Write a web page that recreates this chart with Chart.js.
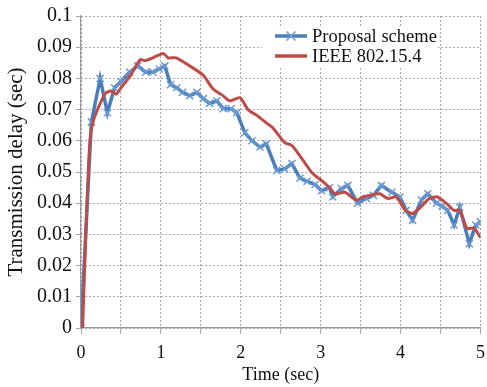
<!DOCTYPE html>
<html>
<head>
<meta charset="utf-8">
<script src="https://cdn.jsdelivr.net/npm/chart.js@4/dist/chart.umd.min.js"></script>
<style>
  html, body { margin: 0; padding: 0; background: #fff; }
  #wrap { width: 487px; height: 387px; position: relative; }
</style>
</head>
<body>
<div id="wrap"><canvas id="c" width="487" height="387"></canvas></div>
<script>
// ---- data ----
const seriesNames = ["Proposal scheme", "IEEE 802.15.4"];
const xTickLabels = ["0", "1", "2", "3", "4", "5"];
const yTickLabels = ["0", "0.01", "0.02", "0.03", "0.04", "0.05", "0.06", "0.07", "0.08", "0.09", "0.1"];
const xTitle = "Time (sec)";
const yTitle = "Transmission delay (sec)";

const proposalTime = [0, 0.13, 0.24, 0.33, 0.42, 0.5, 0.61, 0.71, 0.81, 0.9, 0.98, 1.05, 1.12, 1.2, 1.27, 1.36, 1.45, 1.53, 1.61, 1.7, 1.78, 1.88, 1.95, 2.05, 2.14, 2.24, 2.32, 2.45, 2.55, 2.64, 2.74, 2.83, 2.93, 3.01, 3.11, 3.15, 3.26, 3.34, 3.46, 3.57, 3.66, 3.76, 3.89, 3.99, 4.07, 4.15, 4.26, 4.34, 4.45, 4.52, 4.59, 4.67, 4.74, 4.86, 4.94, 5.0];
const proposalDelay = [0, 0.066, 0.080, 0.069, 0.077, 0.079, 0.082, 0.084, 0.082, 0.082, 0.083, 0.084, 0.078, 0.077, 0.0755, 0.0745, 0.0755, 0.0735, 0.072, 0.0728, 0.0703, 0.0703, 0.069, 0.0626, 0.060, 0.058, 0.059, 0.0505, 0.051, 0.0527, 0.048, 0.047, 0.046, 0.044, 0.045, 0.042, 0.0447, 0.0457, 0.040, 0.0415, 0.0425, 0.0457, 0.0435, 0.042, 0.0377, 0.0345, 0.041, 0.043, 0.040, 0.039, 0.0377, 0.033, 0.0387, 0.027, 0.033, 0.034];

const ieeeTime = [0.02, 0.06, 0.1, 0.12, 0.15, 0.19, 0.3, 0.375, 0.44, 0.5, 0.62, 0.74, 0.8, 0.9, 1.03, 1.09, 1.19, 1.36, 1.53, 1.65, 1.78, 1.86, 1.99, 2.09, 2.21, 2.33, 2.4, 2.55, 2.64, 2.78, 2.9, 3.01, 3.11, 3.18, 3.3, 3.45, 3.53, 3.61, 3.74, 3.84, 3.95, 4.05, 4.15, 4.26, 4.36, 4.46, 4.57, 4.67, 4.74, 4.83, 4.92, 5.0];
const ieeeDelay = [0, 0.03, 0.055, 0.062, 0.066, 0.069, 0.075, 0.076, 0.075, 0.077, 0.081, 0.086, 0.0857, 0.0866, 0.088, 0.0866, 0.0866, 0.084, 0.081, 0.0767, 0.0744, 0.0728, 0.0738, 0.070, 0.068, 0.0655, 0.0642, 0.0594, 0.0585, 0.0537, 0.0495, 0.0473, 0.045, 0.043, 0.0435, 0.041, 0.042, 0.0425, 0.043, 0.0415, 0.042, 0.038, 0.0367, 0.039, 0.0415, 0.042, 0.040, 0.0377, 0.0377, 0.032, 0.032, 0.029];

const toPoints = (xs, ys) => xs.map((x, i) => ({ x: x, y: ys[i] }));

const FONT = '"Liberation Serif", "Times New Roman", serif';
const BLUE = '#4a7ebb';
const BLUE_MARK = '#6b9bd6';
const RED = '#be4b48';

// Legend drawn inside the plot area
const insideLegend = {
  id: 'insideLegend',
  afterDatasetsDraw(chart) {
    const ctx = chart.ctx;
    ctx.save();
    ctx.fillStyle = '#fff';
    ctx.fillRect(262, 26, 176, 41);
    const rows = [
      { y: 36, color: BLUE, marker: true, text: seriesNames[0] },
      { y: 56, color: RED, marker: false, text: seriesNames[1] }
    ];
    rows.forEach(r => {
      ctx.strokeStyle = r.color;
      ctx.lineWidth = 3.5;
      ctx.beginPath();
      ctx.moveTo(275, r.y);
      ctx.lineTo(307, r.y);
      ctx.stroke();
      if (r.marker) {
        ctx.strokeStyle = BLUE_MARK;
        ctx.lineWidth = 1.5;
        const cx = 291, s = 4.5;
        ctx.beginPath();
        ctx.moveTo(cx - s, r.y - s); ctx.lineTo(cx + s, r.y + s);
        ctx.moveTo(cx - s, r.y + s); ctx.lineTo(cx + s, r.y - s);
        ctx.stroke();
      }
      ctx.fillStyle = '#111';
      ctx.font = '18.5px ' + FONT;
      ctx.textBaseline = 'middle';
      ctx.textAlign = 'left';
      ctx.fillText(r.text, 312, r.y + 1);
    });
    ctx.restore();
  }
};

new Chart(document.getElementById('c'), {
  type: 'line',
  data: {
    datasets: [
      {
        label: seriesNames[0],
        data: toPoints(proposalTime, proposalDelay),
        borderColor: BLUE,
        borderWidth: 3.5,
        pointStyle: 'crossRot',
        pointRadius: 5,
        pointBorderColor: BLUE_MARK,
        pointBorderWidth: 1.5,
        pointBackgroundColor: BLUE_MARK,
        tension: 0,
        order: 2
      },
      {
        label: seriesNames[1],
        data: toPoints(ieeeTime, ieeeDelay),
        borderColor: RED,
        borderWidth: 3,
        pointRadius: 0,
        tension: 0.25,
        order: 1
      }
    ]
  },
  options: {
    responsive: false,
    animation: false,
    devicePixelRatio: 1,
    layout: { padding: { top: 15, right: 0, left: 0, bottom: 0 } },
    plugins: {
      legend: { display: false },
      tooltip: { enabled: false }
    },
    scales: {
      x: {
        type: 'linear',
        min: 0, max: 5,
        afterFit(scale) { scale.height = 59; scale.paddingRight = 6; },
        ticks: {
          stepSize: 0.5,
          autoSkip: false,
          maxRotation: 0,
          padding: 8,
          color: '#111',
          font: { family: FONT, size: 18 },
          callback: (v) => (Math.abs(v - Math.round(v)) < 1e-9 ? xTickLabels[Math.round(v)] : '')
        },
        grid: { color: '#a6a6a6', lineWidth: 1, tickLength: 6, tickColor: '#a6a6a6' },
        border: { display: true, color: '#9a9a9a', width: 1.2, dash: [2, 2] },
        title: { display: true, text: xTitle, color: '#111', font: { family: FONT, size: 18 }, padding: { top: 0, bottom: 1 } }
      },
      y: {
        type: 'linear',
        min: 0, max: 0.1,
        afterFit(scale) { scale.width = 81; },
        ticks: {
          stepSize: 0.01,
          autoSkip: false,
          padding: 4,
          color: '#111',
          font: { family: FONT, size: 20 },
          callback: (v) => yTickLabels[Math.round(v * 100)]
        },
        grid: { color: '#a6a6a6', lineWidth: 1, tickLength: 5, tickColor: '#a6a6a6' },
        border: { display: true, color: '#9a9a9a', width: 1.2, dash: [2, 2] },
        title: { display: true, text: yTitle, color: '#111', font: { family: FONT, size: 21 }, padding: { top: 4, bottom: 0 } }
      }
    }
  },
  plugins: [insideLegend]
});
</script>
</body>
</html>
